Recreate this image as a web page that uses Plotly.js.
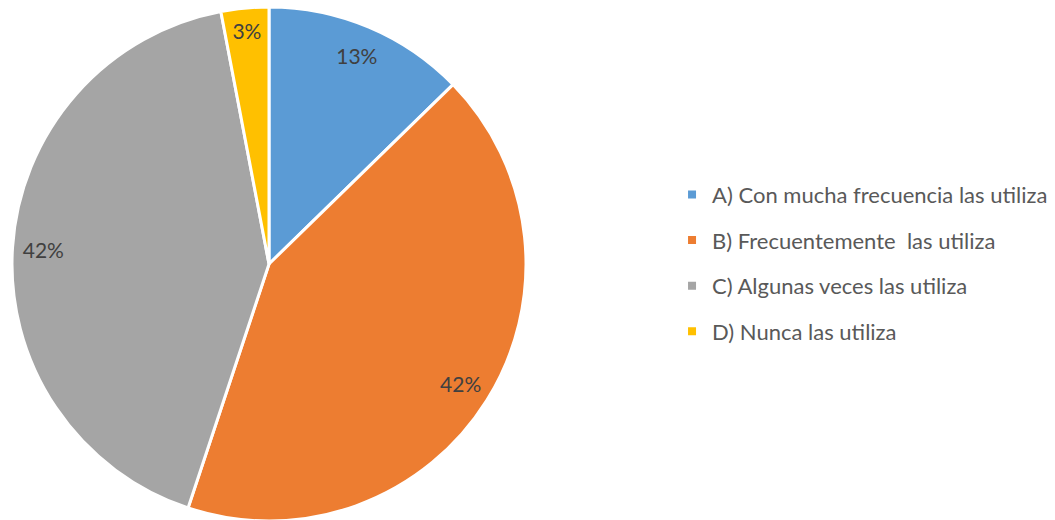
<!DOCTYPE html>
<html>
<head>
<meta charset="utf-8">
<script src="https://cdn.plot.ly/plotly-3.0.1.min.js"></script>
<style>
html,body{margin:0;padding:0;overflow:hidden;background:#fff;}
#chart{width:1055px;height:530px;}
</style>
</head>
<body>
<div id="chart"></div>
<script>
const categories = [
  "A) Con mucha frecuencia las utiliza",
  "B) Frecuentemente  las utiliza",
  "C) Algunas veces las utiliza",
  "D) Nunca las utiliza"
];
const values = [12.7, 42.4, 41.9, 3.0];
const percentLabels = ["13%", "42%", "42%", "3%"];
const colors = ["#5B9BD5", "#ED7D31", "#A5A5A5", "#FFC000"];

const W = 1055, H = 530;
const dom = {x: [12/W, 526/W], y: [9/H, 523/H]};
const FONT = "Lato, 'Open Sans', sans-serif";

const pie = {
  type: "pie",
  labels: categories,
  values: values,
  sort: false,
  direction: "clockwise",
  rotation: 0,
  marker: {colors: colors, line: {color: "#ffffff", width: 3}},
  textinfo: "none",
  hoverinfo: "label+percent",
  domain: dom,
  showlegend: false
};

const labelRing = {
  type: "pie",
  labels: categories,
  values: values,
  sort: false,
  direction: "clockwise",
  rotation: 0,
  hole: 0.76,
  marker: {colors: categories.map(() => "rgba(0,0,0,0)"), line: {width: 0}},
  text: percentLabels,
  textinfo: "text",
  textposition: "inside",
  insidetextorientation: "horizontal",
  insidetextfont: {family: FONT, size: 21, color: "#404040"},
  hoverinfo: "skip",
  domain: dom,
  showlegend: false
};

// legend entries (one per category, spaced via legend groups)
const legendTraces = categories.map((c, i) => ({
  type: "scatter",
  mode: "markers",
  x: [null],
  y: [null],
  name: c,
  legendgroup: "g" + i,
  showlegend: true,
  marker: {symbol: "square", size: 8, color: colors[i]},
  hoverinfo: "skip"
}));

const layout = {
  width: W,
  height: H,
  margin: {l: 0, r: 0, t: 0, b: 0},
  paper_bgcolor: "#ffffff",
  plot_bgcolor: "rgba(0,0,0,0)",
  xaxis: {visible: false},
  yaxis: {visible: false},
  showlegend: true,
  legend: {
    x: 0.637, y: 0.5035, xanchor: "left", yanchor: "middle",
    traceorder: "grouped",
    tracegroupgap: 14,
    font: {family: FONT, size: 22, color: "#595959"},
    bgcolor: "rgba(0,0,0,0)"
  },
  font: {family: FONT}
};

Plotly.newPlot("chart", [pie, labelRing].concat(legendTraces), layout, {displayModeBar: false, staticPlot: true});
</script>
</body>
</html>
